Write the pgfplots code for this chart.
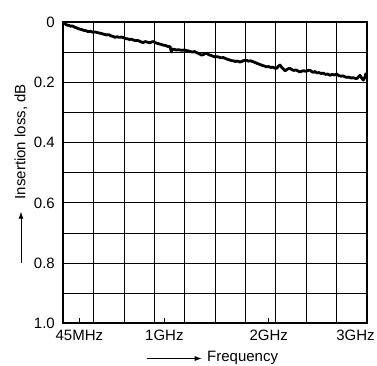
\documentclass[border=0pt]{standalone}
\usepackage{pgfplots}
\pgfplotsset{compat=1.18}
\usetikzlibrary{arrows.meta}
\usepackage{fontspec}
\setmainfont{Liberation Sans}
\begin{document}
\begin{tikzpicture}
\begin{axis}[
  scale only axis, width=303.4pt, height=301pt,
  at={(0,0)}, anchor=south west,
  clip mode=individual,
  xmin=0, xmax=10, ymin=0, ymax=1, y dir=reverse,
  xtick={0.53,3.33,6.77}, xticklabels={45MHz,1GHz,2GHz},
  extra x ticks={10}, extra x tick labels={3GHz},
  extra x tick style={major tick length=0pt, grid=none, xticklabel style={xshift=-11.2pt}},
  minor xtick={1,2,3,4,5,6,7,8,9},
  ytick={0,0.2,0.4,0.6,0.8,1}, yticklabels={0,0.2,0.4,0.6,0.8,1.0},
  minor ytick={0.1,0.3,0.5,0.7,0.9},
  xmajorgrids=false, xminorgrids=true, ymajorgrids=true, yminorgrids=true,
  grid style={black, line width=0.9pt},
  minor grid style={black, line width=0.9pt},
  tick align=inside, xtick pos=bottom, ytick pos=left,
  major tick length=5.7pt,
  x tick style={black, line width=0.8pt},
  y tick style={draw=none},
  minor tick length=0pt,
  axis line style={line width=2pt},
  /pgf/number format/assume math mode=true,
  tick label style={font=\fontsize{15}{18}\selectfont, inner sep=0pt},
  xticklabel style={yshift=-6.7pt},
  yticklabel style={xshift=-8.3pt},
]
\addplot[black, line width=2.8pt, line join=round] coordinates {
(0.00,0.002) (0.05,0.004) (0.11,0.009) (0.18,0.010) (0.24,0.013) (0.30,0.012)
(0.37,0.016) (0.45,0.019) (0.52,0.022) (0.60,0.024) (0.68,0.027) (0.75,0.028)
(0.82,0.031) (0.90,0.030) (0.97,0.033) (1.05,0.032) (1.12,0.034) (1.20,0.036)
(1.28,0.038) (1.35,0.040) (1.43,0.042) (1.50,0.041) (1.57,0.045) (1.64,0.047)
(1.70,0.050) (1.77,0.048) (1.85,0.050) (1.92,0.049) (1.98,0.051) (2.05,0.054)
(2.12,0.055) (2.18,0.057) (2.25,0.056) (2.31,0.059) (2.38,0.061) (2.45,0.060)
(2.52,0.063) (2.58,0.066) (2.64,0.067) (2.70,0.064) (2.78,0.066) (2.85,0.068)
(2.92,0.065) (2.97,0.064) (3.04,0.068) (3.10,0.070) (3.17,0.072) (3.24,0.074)
(3.30,0.076) (3.37,0.077) (3.44,0.080) (3.52,0.081) (3.56,0.098) (3.60,0.089)
(3.66,0.090) (3.72,0.092) (3.79,0.091) (3.85,0.092) (3.92,0.093) (3.99,0.092)
(4.06,0.094) (4.12,0.095) (4.19,0.097) (4.26,0.099) (4.33,0.097) (4.40,0.101)
(4.47,0.104) (4.56,0.109) (4.62,0.107) (4.68,0.104) (4.73,0.103) (4.80,0.108)
(4.87,0.110) (4.94,0.113) (5.00,0.115) (5.07,0.114) (5.14,0.116) (5.20,0.118)
(5.27,0.117) (5.34,0.120) (5.41,0.123) (5.48,0.125) (5.54,0.127) (5.60,0.128)
(5.67,0.130) (5.74,0.129) (5.82,0.132) (5.88,0.130) (5.95,0.127) (6.04,0.126)
(6.10,0.129) (6.17,0.128) (6.26,0.131) (6.33,0.134) (6.40,0.137) (6.48,0.140)
(6.55,0.143) (6.62,0.145) (6.70,0.148) (6.77,0.147) (6.84,0.150) (6.90,0.149)
(6.97,0.152) (7.03,0.153) (7.08,0.147) (7.14,0.142) (7.20,0.150) (7.26,0.156)
(7.31,0.161) (7.37,0.157) (7.42,0.154) (7.47,0.153) (7.53,0.157) (7.60,0.160)
(7.66,0.158) (7.72,0.161) (7.80,0.165) (7.86,0.162) (7.93,0.161) (8.00,0.163)
(8.06,0.160) (8.13,0.159) (8.19,0.164) (8.25,0.166) (8.30,0.163) (8.35,0.168)
(8.42,0.167) (8.50,0.170) (8.57,0.169) (8.64,0.173) (8.72,0.172) (8.79,0.176)
(8.86,0.173) (8.94,0.175) (9.01,0.172) (9.08,0.177) (9.15,0.179) (9.22,0.178)
(9.28,0.181) (9.34,0.183) (9.41,0.182) (9.48,0.185) (9.55,0.184) (9.61,0.186)
(9.67,0.187) (9.72,0.182) (9.78,0.176) (9.84,0.186) (9.89,0.192) (9.94,0.183)
(9.98,0.168)
};
\node[rotate=90, inner sep=0pt, font=\fontsize{15}{18}\selectfont] at ([xshift=-42.3pt]axis description cs:0,0.603) {Insertion loss, dB};
\draw[-{Latex[length=7pt,width=5pt]}, line width=0.8pt] ([xshift=-42.3pt]axis description cs:0,0.2003) -- ++(0,51.3pt);
\node[anchor=base west, inner sep=0pt, font=\fontsize{15}{18}\selectfont] at ([yshift=-38.4pt]axis description cs:0.4736,0) {Frequency};
\draw[-{Latex[length=7pt,width=5pt]}, line width=0.8pt] ([yshift=-35.2pt]axis description cs:0.2749,0) -- ++(55pt,0);
\end{axis}
\pgfresetboundingbox
\path[use as bounding box] (-63.3pt,-41.7pt) rectangle (313.7pt,323.3pt);
\end{tikzpicture}
\end{document}
